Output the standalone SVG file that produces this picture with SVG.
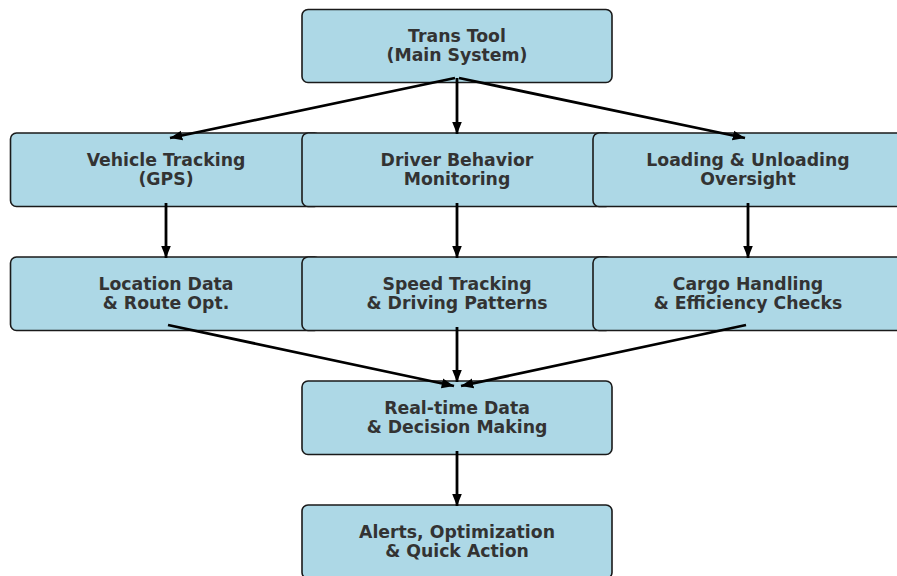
<svg xmlns="http://www.w3.org/2000/svg" width="897" height="576" viewBox="0 0 897 576">
  <defs>
    <style>
      .box { fill: #add8e6; stroke: #1a1a1a; stroke-width: 1.6; }
      .label { font-family: "DejaVu Sans", sans-serif; font-weight: bold; font-size: 17.3px; fill: #333333; text-anchor: middle; }
      .edge { stroke: #000000; stroke-width: 2.8; fill: none; marker-end: url(#head); }
    </style>
    <marker id="head" viewBox="0 0 10 10" refX="10" refY="5" markerWidth="4.4" markerHeight="4.4" markerUnits="strokeWidth" orient="auto">
      <path d="M0,1 L10,5 L0,9 z" fill="#000000"/>
    </marker>
  </defs>
  <rect width="897" height="576" fill="#ffffff"/>

  <g id="trans-tool">
    <rect class="box" x="302" y="9.5" width="310" height="73" rx="6"/>
    <text class="label" x="457" y="41.5">Trans Tool<tspan x="457" dy="19.5">(Main System)</tspan></text>
  </g>

  <g id="vehicle-tracking">
    <rect class="box" x="10.5" y="133" width="310" height="73.5" rx="6"/>
    <text class="label" x="166" y="165.5">Vehicle Tracking<tspan x="166" dy="19.5">(GPS)</tspan></text>
  </g>
  <g id="driver-behavior">
    <rect class="box" x="302" y="133" width="310" height="73.5" rx="6"/>
    <text class="label" x="457" y="165.5">Driver Behavior<tspan x="457" dy="19.5">Monitoring</tspan></text>
  </g>
  <g id="loading-oversight">
    <rect class="box" x="593" y="133" width="310" height="73.5" rx="6"/>
    <text class="label" x="748" y="165.5">Loading &amp; Unloading<tspan x="748" dy="19.5">Oversight</tspan></text>
  </g>

  <g id="location-data">
    <rect class="box" x="10.5" y="257" width="310" height="73.5" rx="6"/>
    <text class="label" x="166" y="289.5">Location Data<tspan x="166" dy="19.5">&amp; Route Opt.</tspan></text>
  </g>
  <g id="speed-tracking">
    <rect class="box" x="302" y="257" width="310" height="73.5" rx="6"/>
    <text class="label" x="457" y="289.5">Speed Tracking<tspan x="457" dy="19.5">&amp; Driving Patterns</tspan></text>
  </g>
  <g id="cargo-handling">
    <rect class="box" x="593" y="257" width="310" height="73.5" rx="6"/>
    <text class="label" x="748" y="289.5">Cargo Handling<tspan x="748" dy="19.5">&amp; Efficiency Checks</tspan></text>
  </g>

  <g id="decision-making">
    <rect class="box" x="302" y="381" width="310" height="73.5" rx="6"/>
    <text class="label" x="457" y="413.5">Real-time Data<tspan x="457" dy="19.5">&amp; Decision Making</tspan></text>
  </g>

  <g id="quick-action">
    <rect class="box" x="302" y="505" width="310" height="73.5" rx="6"/>
    <text class="label" x="457" y="537.5">Alerts, Optimization<tspan x="457" dy="19.5">&amp; Quick Action</tspan></text>
  </g>

  <g id="connectors">
    <line class="edge" x1="455" y1="78" x2="170" y2="138"/>
    <line class="edge" x1="457" y1="78" x2="457" y2="134"/>
    <line class="edge" x1="459" y1="78" x2="745" y2="138"/>
    <line class="edge" x1="166" y1="203" x2="166" y2="258"/>
    <line class="edge" x1="457" y1="203" x2="457" y2="258"/>
    <line class="edge" x1="748" y1="203" x2="748" y2="258"/>
    <line class="edge" x1="168" y1="325" x2="454" y2="386"/>
    <line class="edge" x1="457" y1="327" x2="457" y2="382"/>
    <line class="edge" x1="746" y1="325" x2="461" y2="386"/>
    <line class="edge" x1="457" y1="451" x2="457" y2="506"/>
  </g>
</svg>
